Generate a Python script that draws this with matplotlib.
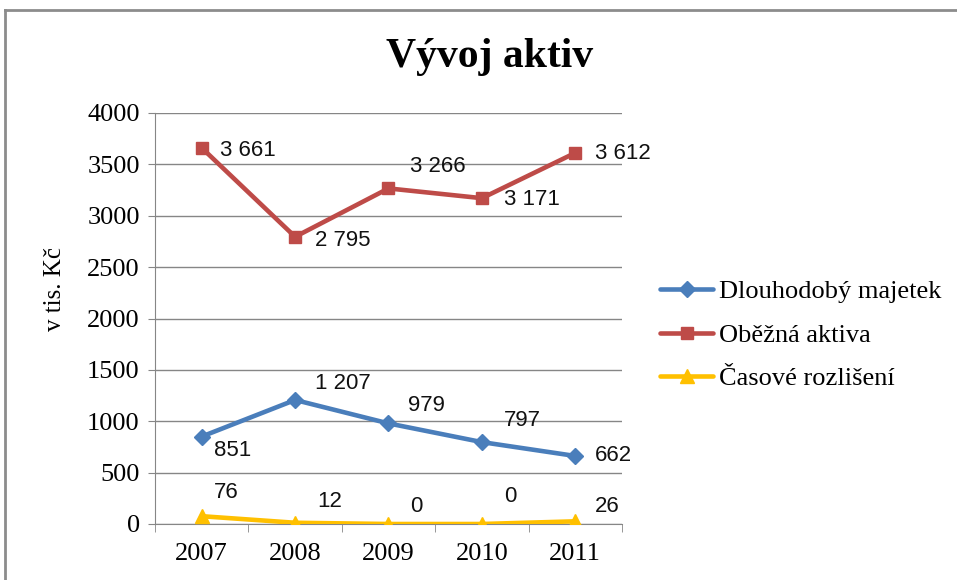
import numpy as np
import matplotlib
matplotlib.use('Agg')
import matplotlib.pyplot as plt
from matplotlib.lines import Line2D

years = ['2007', '2008', '2009', '2010', '2011']
dlouhodoby = [851, 1207, 979, 797, 662]
obezna = [3661, 2795, 3266, 3171, 3612]
casove = [76, 12, 0, 0, 26]
series_names = ['Dlouhodobý majetek', 'Oběžná aktiva', 'Časové rozlišení']

# label offsets in pixels (dx, dy) relative to the point
off_blue = [(12, -14), (20, 16), (20, 18), (22, 22), (20, 0)]
off_red = [(18, -3), (20, -4), (22, 22), (22, -1), (20, -1)]
off_yellow = [(12, 24), (22, 21), (22, 18), (22, 27), (20, 15)]

serif = 'Liberation Serif'
sans = 'Liberation Sans'

fig = plt.figure(figsize=(9.57, 5.8), dpi=100)
ax = fig.add_axes([155 / 957, 1 - 524 / 580, (622 - 155) / 957, (524 - 113) / 580])

x = np.arange(len(years))
styles = [
    (dlouhodoby, '#4A7EBB', 'D', 8, off_blue),
    (obezna, '#BE4B48', 's', 9, off_red),
    (casove, '#FFC000', '^', 10, off_yellow),
]
for (vals, col, mk, ms, offs), name in zip(styles, series_names):
    ax.plot(x, vals, color=col, lw=3.3, marker=mk, markersize=ms, label=name,
            solid_capstyle='round', zorder=3)
    for xi, v, (dx, dy) in zip(x, vals, offs):
        txt = f'{v:,}'.replace(',', ' ')
        ax.annotate(txt, (xi, v), xytext=(dx * 0.72, dy * 0.72), textcoords='offset points',
                    ha='left', va='center', fontsize=16, family=sans, color='#111111',
                    annotation_clip=False)

ax.set_xlim(-0.5, 4.5)
ax.set_ylim(0, 4000)
ax.set_yticks(np.arange(0, 4001, 500))
ax.set_xticks(x)
ax.set_xticklabels(years)
ax.set_xticks(np.arange(-0.5, 4.6, 1), minor=True)
ax.tick_params(axis='x', which='major', length=0, pad=14)
ax.tick_params(axis='x', which='minor', length=6, color='#868686')
ax.tick_params(axis='y', length=5, color='#868686', pad=6)
for lab in ax.get_xticklabels() + ax.get_yticklabels():
    lab.set_fontfamily(serif)
    lab.set_fontsize(19)
ax.grid(axis='y', color='#868686', lw=1)
ax.set_axisbelow(True)
for s in ['top', 'right']:
    ax.spines[s].set_visible(False)
for s in ['left', 'bottom']:
    ax.spines[s].set_color('#868686')

ax.set_ylabel('v tis. Kč', fontsize=18, family=serif)
ax.yaxis.set_label_coords((66 - 155) / 467, (524 - 289) / 411)

fig.text(490 / 957, 1 - 57 / 580, 'Vývoj aktiv', ha='center', va='center',
         fontsize=30, fontweight='bold', family=serif)

ax.legend(loc='center left', bbox_to_anchor=(642 / 957, 1 - 335 / 580),
          bbox_transform=fig.transFigure, frameon=False,
          prop={'family': serif, 'size': 19}, handlelength=2.0, handletextpad=0.2,
          labelspacing=0.75, borderpad=0.2)

# outer chart frame (top and left edges visible)
fig.add_artist(Line2D([5 / 957, 1.0], [1 - 10 / 580] * 2, transform=fig.transFigure,
                      color='#8c8c8c', lw=2))
fig.add_artist(Line2D([5 / 957] * 2, [0.0, 1 - 10 / 580], transform=fig.transFigure,
                      color='#8c8c8c', lw=2))

fig.savefig('out.png', dpi=100)
